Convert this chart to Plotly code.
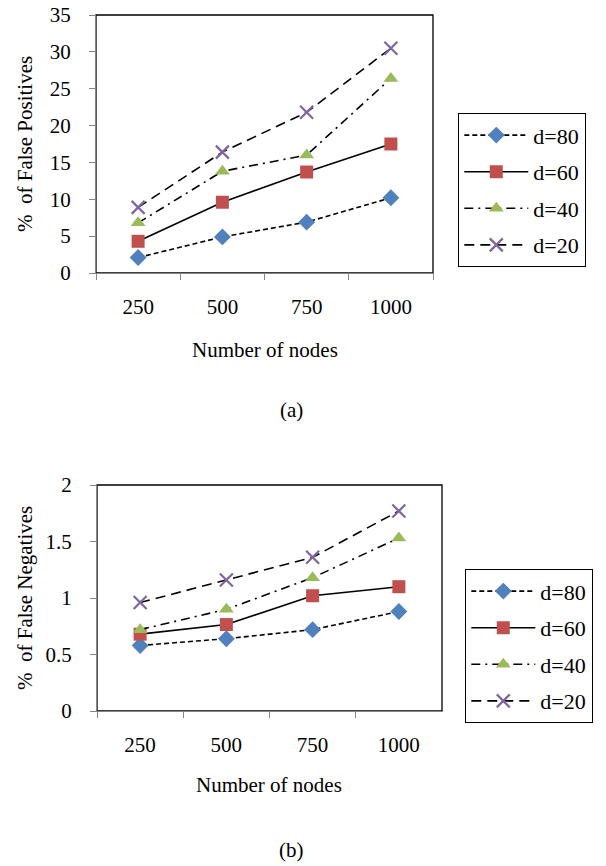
import plotly.graph_objects as go

nodes = ["250", "500", "750", "1000"]
series_names = ["d=80", "d=60", "d=40", "d=20"]

fp_d80 = [2.1, 4.9, 6.9, 10.2]
fp_d60 = [4.3, 9.6, 13.7, 17.5]
fp_d40 = [6.8, 13.8, 16.0, 26.4]
fp_d20 = [8.9, 16.4, 21.8, 30.5]

fn_d80 = [0.58, 0.64, 0.72, 0.88]
fn_d60 = [0.68, 0.765, 1.02, 1.10]
fn_d40 = [0.72, 0.90, 1.18, 1.53]
fn_d20 = [0.96, 1.16, 1.36, 1.77]

fp_ticks = [0, 5, 10, 15, 20, 25, 30, 35]
fn_ticks = [0, 0.5, 1, 1.5, 2]

styles = [
    dict(color="#4F81BD", symbol="diamond", size=13, dash="5px,3px"),
    dict(color="#C0504D", symbol="square", size=13, dash="solid"),
    dict(color="#9BBB59", symbol="triangle-up", size=13, dash="9px,5px,2px,5px"),
    dict(color="#8064A2", symbol="x-thin", size=13, dash="10px,6px"),
]

W, H = 606, 866
FONT = "Liberation Serif"
FS = 21


def px(x):
    return x / W


def py(y):
    return 1 - y / H


fig = go.Figure()

for group, axes, data in [("a", ("x", "y", "legend"), [fp_d80, fp_d60, fp_d40, fp_d20]),
                          ("b", ("x2", "y2", "legend2"), [fn_d80, fn_d60, fn_d40, fn_d20])]:
    for i, (name, vals) in enumerate(zip(series_names, data)):
        s = styles[i]
        fig.add_trace(go.Scatter(
            x=nodes, y=vals, name=name, mode="lines+markers",
            line=dict(color="black", width=1.6, dash=s["dash"]),
            marker=dict(color=s["color"], symbol=s["symbol"], size=s["size"],
                        line=dict(color=s["color"], width=2.2 if s["symbol"] == "x-thin" else 0)),
            xaxis=axes[0], yaxis=axes[1], legend=axes[2], legendgroup=group + name,
        ))

top = (15, 273, 96, 433)
bot = (485, 711, 97, 442)

xcommon = dict(type="category", range=[-0.5, 3.5], showgrid=False, zeroline=False, automargin=False,
               showline=True, linecolor="#868686", linewidth=1.3,
               ticks="outside", ticklen=6, tickcolor="#868686", tickson="boundaries",
               tickfont=dict(family=FONT, size=FS, color="black"), ticklabelstandoff=15,
               ticklabeloverflow="allow")
ycommon = dict(showgrid=False, zeroline=False, showline=True, linecolor="#868686", linewidth=1.3,
               ticks="outside", ticklen=6, tickcolor="#868686", automargin=False,
               tickfont=dict(family=FONT, size=FS, color="black"), ticklabelstandoff=14,
               ticklabeloverflow="allow")

legcommon = dict(xanchor="left", yanchor="top", bordercolor="black", borderwidth=1.3,
                 bgcolor="white", font=dict(family=FONT, size=22, color="black"),
                 tracegroupgap=5, traceorder="grouped", itemwidth=64)

fig.update_layout(
    width=W, height=H, margin=dict(l=0, r=0, t=0, b=0, autoexpand=False),
    paper_bgcolor="white", plot_bgcolor="white",
    font=dict(family=FONT, size=FS, color="black"),
    xaxis=dict(domain=[px(top[2]), px(top[3])], anchor="y", **xcommon),
    yaxis=dict(domain=[py(top[1]), py(top[0])], anchor="x", range=[0, 35],
               tickvals=fp_ticks, **ycommon),
    xaxis2=dict(domain=[px(bot[2]), px(bot[3])], anchor="y2", **xcommon),
    yaxis2=dict(domain=[py(bot[1]), py(bot[0])], anchor="x2", range=[0, 2],
                tickvals=fn_ticks, **ycommon),
    legend=dict(x=px(458), y=py(113), **legcommon),
    legend2=dict(x=px(465), y=py(569), **legcommon),
    showlegend=True,
)

# plot-area frame (top/right black edges)
for (y0, y1, x0, x1) in [top, bot]:
    fig.add_shape(type="rect", xref="paper", yref="paper",
                  x0=px(x0), x1=px(x1), y0=py(y1), y1=py(y0),
                  line=dict(color="black", width=1.3), layer="below")

ann = [
    (25, 144, "%  of False Positives", -90),
    (25, 598, "%  of False Negatives", -90),
    (265, 350, "Number of nodes", 0),
    (269, 785, "Number of nodes", 0),
    (291, 410, "(a)", 0),
    (291, 850, "(b)", 0),
]
for (x, y, t, a) in ann:
    fig.add_annotation(x=px(x), y=py(y), xref="paper", yref="paper", text=t,
                       showarrow=False, textangle=a, xanchor="center", yanchor="middle",
                       font=dict(family=FONT, size=FS, color="black"))

fig.write_html("out.html", config={"displayModeBar": False},
               post_script="document.body.style.margin='0';document.body.style.overflow='hidden';")
